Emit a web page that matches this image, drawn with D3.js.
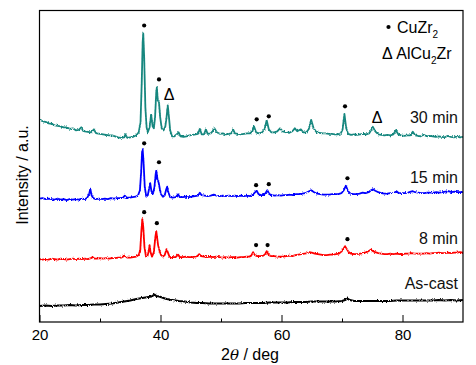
<!DOCTYPE html>
<html>
<head>
<meta charset="utf-8">
<script src="https://cdn.jsdelivr.net/npm/d3@7"></script>
<style>
  body { margin: 0; background: #fff; }
  svg { display: block; font-family: "Liberation Sans", Arial, sans-serif; }
</style>
</head>
<body>
<svg id="chart" width="476" height="365"></svg>
<script>
// XRD patterns, [2theta, intensity (a.u., stacked)]
const asCast = [[20,16],[21,16.5],[22,16],[23,16.5],[24,16.5],[25,17],[26,16.5],[27,17],[28,17],[29,17.5],[30,17.5],[31,18],[32,18.5],[33,19.5],[34,20.5],[35,21.5],[36,23],[37,24],[37.5,24.5],[38,25],[38.5,25.5],[39,27.5],[39.3,26],[39.8,25.5],[40.5,24],[41,23],[42,22],[43,21],[44,20.5],[45,19.5],[46,19],[47,19],[48,18.5],[49,18.5],[50,18.5],[51,18.5],[52,18.5],[53,18.5],[54,19],[55,19],[56,19],[57,19],[58,19.5],[59,19.5],[60,19.5],[61,19.5],[62,20],[63,20],[64,20],[65,20.5],[66,20.5],[67,20.5],[68,20.5],[69,20.5],[70,21],[70.5,22],[70.9,23.5],[71.3,22],[72,21],[73,21],[74,21],[75,21],[76,21],[77,21],[78,21],[79,21.5],[80,21.5],[81,21.5],[82,21.5],[83,21.5],[84,21.5],[85,21.5],[86,22],[87,21.5],[88,22],[89,21.5],[90,22]];

const min8 = [[20,63],[20.5,62.5],[21,63],[21.5,62.5],[22,63.5],[22.5,63],[23,62.5],[23.5,63.5],[24,63],[24.5,62.5],[25,63],[25.5,63.5],[26,63],[26.5,63.5],[27,63],[27.5,63.5],[28,63],[28.5,64],[28.8,65],[29.1,63.5],[29.5,63.5],[30,64],[30.5,63.5],[31,64],[31.5,63.5],[32,64],[32.5,64],[33,64.5],[33.5,64.5],[34.1,66.5],[34.5,64.5],[35,64.5],[35.5,65],[36,65.5],[36.4,67],[36.65,72],[36.85,92],[37,103],[37.15,95],[37.35,75],[37.6,65.5],[37.85,66],[38.05,71],[38.2,77],[38.35,70],[38.6,65.5],[38.9,70],[39.15,85],[39.3,91],[39.45,84],[39.6,77],[39.85,71],[40.1,67],[40.4,65.5],[40.7,67],[40.9,71],[41,73],[41.2,70],[41.45,66],[41.7,64.5],[42.1,65],[42.5,65],[42.9,67.5],[43.2,65],[43.7,65],[44.2,65.5],[44.7,65],[45.2,65],[45.7,65.5],[46.1,66],[46.4,68],[46.7,66],[47.2,65.5],[47.7,65],[48.2,65.5],[48.7,65],[49.2,65.5],[49.7,65],[50.2,64.5],[50.7,65],[51.2,64.5],[51.7,65],[52.2,65],[52.7,64.5],[53.2,65],[53.7,65],[54.2,65.5],[54.7,65.5],[55,66.5],[55.3,70],[55.6,67],[56,66],[56.5,66],[57,66.5],[57.3,68],[57.55,71],[57.9,67],[58.3,66],[58.8,66],[59.3,65.5],[59.8,65.5],[60.3,65.5],[60.8,66],[61.3,66.5],[61.8,66],[62.3,67],[62.8,67.5],[63.3,68],[63.8,68.5],[64.3,69],[64.6,70],[65,69.5],[65.5,68.5],[66,68],[66.5,67.5],[67,67],[67.5,67],[68,67.5],[68.5,67.5],[69,68],[69.5,68.5],[69.9,70.5],[70.2,73],[70.5,76],[70.8,73],[71.1,70],[71.5,68.5],[72,68],[72.5,68],[73,68.5],[73.5,69],[74,70],[74.4,71],[74.75,72.5],[75.1,71],[75.5,70],[76,69],[76.5,68.5],[77,68],[77.5,68],[78,68.5],[78.5,68],[79,68.5],[79.5,68],[80,68],[80.5,68.5],[81,68.5],[81.5,69],[82,68.5],[82.5,68.5],[83,68.5],[83.5,68.5],[84,69],[84.5,68.5],[85,69],[85.5,69],[86,69.5],[86.5,69],[87,69],[87.5,69.5],[88,69],[88.5,69.5],[89,69.5],[89.5,70],[90,69.5]];

const min15 = [[20,123.5],[20.5,124],[21,123],[21.5,123.5],[22,123],[22.5,122.5],[23,123.5],[23.5,122.5],[24,123],[24.5,122],[25,123],[25.5,122.5],[26,123],[26.5,122.5],[27,123.5],[27.5,123],[27.9,124.5],[28.2,128],[28.4,133.5],[28.6,127],[28.9,124],[29.3,123],[29.8,123.5],[30.3,123],[30.8,123.5],[31.3,123],[31.8,124],[32.3,123.5],[32.8,124],[33.3,124],[33.8,124.5],[34.1,126.5],[34.4,124.5],[34.9,124.5],[35.4,125],[35.9,125.5],[36.3,127],[36.6,132],[36.8,150],[36.95,170],[37.05,173],[37.2,160],[37.4,135],[37.65,125.5],[37.9,127],[38.1,133],[38.3,139],[38.5,131],[38.75,128.5],[39,135],[39.2,148],[39.3,151.5],[39.5,143],[39.7,139.5],[39.9,133],[40.1,128],[40.4,125.5],[40.7,127],[40.95,133],[41.1,135.5],[41.3,130],[41.6,125],[42,124.5],[42.5,125],[42.9,128],[43.2,125],[43.7,125],[44.2,125.5],[44.7,125],[45.2,125.5],[45.7,126],[46.2,126.5],[46.5,129.5],[46.8,127],[47.3,126.5],[47.8,126],[48.3,126.5],[48.8,127.5],[49.3,126.5],[49.8,126],[50.3,126.5],[50.8,126],[51.3,126.5],[51.8,126],[52.3,126.5],[52.8,126],[53.3,126.5],[53.8,126],[54.3,126.5],[54.8,126],[55.2,127],[55.5,129],[55.9,131.5],[56.2,128],[56.6,127],[57,127],[57.35,129],[57.65,132],[58,128],[58.4,127],[58.9,126.5],[59.4,127],[59.9,126.5],[60.4,127],[60.9,127],[61.4,127.5],[61.9,127],[62.4,128],[62.9,128],[63.4,128.5],[63.9,129],[64.4,130.5],[64.9,132],[65.4,130],[65.9,128.5],[66.4,128],[66.9,127.5],[67.4,127.5],[67.9,127.5],[68.4,128],[68.9,128],[69.4,128],[69.9,129],[70.3,132],[70.65,136.5],[71,131],[71.4,128.5],[71.9,128],[72.4,128],[72.9,128.5],[73.4,129.5],[73.9,129],[74.4,130],[74.8,132],[75.1,133],[75.5,131.5],[76,130],[76.5,129],[77,128.5],[77.5,128.5],[78,129],[78.5,129],[79,131],[79.4,129],[79.9,129],[80.4,129],[80.9,129.5],[81.4,130.5],[81.7,131],[82.1,130],[82.6,129.5],[83.1,129],[83.6,129],[84.1,129.5],[84.6,129.5],[85.1,129.5],[85.6,130],[86.1,129.5],[86.6,130],[87.1,130.5],[87.6,131],[88.1,130],[88.6,130.5],[89.1,130],[89.6,130],[90,130]];

const min30 = [[20,203],[20.5,201],[21,200.5],[21.5,199],[22,198.5],[22.5,197],[23,196.5],[23.5,196],[24,195],[24.5,195],[25,193.5],[25.5,194],[26,192],[26.5,192.5],[26.9,195],[27.2,191.5],[27.5,191],[28,190.5],[28.5,190],[29,193],[29.3,189.5],[29.5,189],[30,188.5],[30.5,188],[31,187.5],[31.5,187],[32,187],[32.5,186],[33,185],[33.5,184.5],[34,185],[34.2,188],[34.5,184.5],[35,185],[35.5,185.5],[36,187],[36.4,190],[36.7,200],[36.9,240],[37.05,280],[37.15,289],[37.3,265],[37.5,215],[37.7,195],[37.9,190],[38.2,195],[38.45,208],[38.7,196],[38.9,194],[39.1,205],[39.3,230],[39.4,235],[39.55,222],[39.75,220],[39.95,205],[40.2,194],[40.5,192],[40.8,196],[41,205],[41.2,217],[41.4,205],[41.6,192],[41.9,186],[42.3,186],[42.7,188],[43,190],[43.3,186],[43.8,185.5],[44.3,186],[44.8,187],[45.3,187.5],[45.8,188],[46.2,188.5],[46.5,193.5],[46.8,188],[47.2,188],[47.5,193],[47.8,188.5],[48.3,189],[48.6,191],[48.9,194],[49.3,190],[49.8,188.5],[50.3,189],[50.8,188],[51.3,188.5],[51.7,189],[52,193],[52.3,189],[52.8,188.5],[53.3,188],[53.8,188.5],[54.3,189],[54.8,189],[55.2,191],[55.45,196],[55.8,190],[56.3,189],[56.8,190],[57.2,193],[57.55,202],[57.9,193],[58.3,190],[58.8,190],[59.3,191],[59.75,194],[60.2,191],[60.8,190],[61.3,189.5],[61.8,191],[62.2,194],[62.6,191],[63.2,193],[63.6,190],[64.1,190],[64.5,193],[64.9,202.5],[65.3,194],[65.8,190],[66.3,189.5],[66.8,189],[67.3,189],[67.8,188.5],[68.3,188.5],[68.8,188],[69.3,188],[69.8,189],[70.1,193],[70.4,208.5],[70.7,194],[71,188.5],[71.5,187.5],[72,188],[72.5,187.5],[73,188],[73.5,188.5],[74,188],[74.5,189],[74.8,192],[75.1,195.5],[75.5,191],[76,188],[76.5,187.5],[77,187],[77.5,187.5],[78,187],[78.5,188],[78.9,192],[79.3,188],[79.8,187],[80.3,186.5],[80.8,187],[81.3,187],[81.7,190.5],[82.1,187],[82.6,186.5],[83,186],[83.5,187.5],[84,186],[84.5,186.5],[85,186],[85.5,185.5],[86,186],[86.5,185.5],[87,185],[87.5,186.5],[88,185.5],[88.5,185],[89,186],[89.5,185],[90,185.5]];

const seriesNames = ['As-cast', '8 min', '15 min', '30 min'];
const seriesData = [asCast, min8, min15, min30];

// phase markers [2theta, intensity level]
const cuZr2Marks = [
  [37.3, 297], [39.75, 243], [55.9, 203], [57.9, 206], [70.5, 216],
  [37.3, 179], [39.75, 160], [55.8, 137], [57.9, 138], [70.9, 144],
  [37.3, 110], [39.4, 99], [55.8, 77], [57.7, 77], [70.9, 83]
];
const alCu2ZrMarks = [[41.4, 228], [75.8, 205]];

const xTicks = [20, 40, 60, 80];
const xMinorTicks = [30, 50, 70];

const colors = ['#000000', '#ff0000', '#0000ff', '#17877f'];
const widths = [2.1, 1.8, 1.8, 1.8];

const w = 476, h = 365;
const m = { left: 39.5, right: 463, top: 10.5, bottom: 322 };

const svg = d3.select('#chart');

// rough-looking stroke (vertical jitter only), like raw detector noise
const defs = svg.append('defs');
const rough = defs.append('filter').attr('id', 'rough')
  .attr('x', '-2%').attr('y', '-10%').attr('width', '104%').attr('height', '120%');
rough.append('feTurbulence')
  .attr('type', 'fractalNoise')
  .attr('baseFrequency', '1.2 0.6')
  .attr('numOctaves', 1)
  .attr('seed', 3)
  .attr('result', 'noise');
rough.append('feColorMatrix')
  .attr('in', 'noise')
  .attr('type', 'matrix')
  .attr('values', '0 0 0 0 0.5  0 1 0 0 0  0 0 1 0 0  0 0 0 0 1')
  .attr('result', 'noiseY');
rough.append('feDisplacementMap')
  .attr('in', 'SourceGraphic')
  .attr('in2', 'noiseY')
  .attr('scale', 3.5)
  .attr('xChannelSelector', 'R')
  .attr('yChannelSelector', 'G');

const x = d3.scaleLinear().domain([20, 90]).range([m.left, m.right]);
const y = d3.scaleLinear().domain([0, 312]).range([m.bottom, m.top]);

const line = d3.line()
  .x(d => x(d[0]))
  .y(d => y(d[1]))
  .curve(d3.curveLinear);

// traces
svg.append('g')
  .attr('filter', 'url(#rough)')
  .selectAll('path')
  .data(seriesData)
  .enter()
  .append('path')
  .attr('d', line)
  .attr('fill', 'none')
  .attr('stroke', (d, i) => colors[i])
  .attr('stroke-width', (d, i) => widths[i])
  .attr('stroke-linejoin', 'round');

// frame
svg.append('rect')
  .attr('x', m.left).attr('y', m.top)
  .attr('width', m.right - m.left).attr('height', m.bottom - m.top)
  .attr('fill', 'none').attr('stroke', '#000').attr('stroke-width', 1.2);

// x axis
const xAxis = d3.axisBottom(x).tickValues(xTicks).tickSizeInner(-7).tickSizeOuter(0).tickPadding(7);
const gx = svg.append('g').attr('transform', 'translate(0,' + m.bottom + ')').call(xAxis);
gx.select('.domain').remove();
gx.selectAll('text').attr('font-size', 15).attr('fill', '#000').attr('font-family', '"Liberation Sans", Arial, sans-serif');
gx.selectAll('line').attr('stroke', '#000');

const xMinor = d3.axisBottom(x).tickValues(xMinorTicks).tickSizeInner(-3.5).tickSizeOuter(0).tickFormat('');
const gxm = svg.append('g').attr('transform', 'translate(0,' + m.bottom + ')').call(xMinor);
gxm.select('.domain').remove();
gxm.selectAll('line').attr('stroke', '#000');

// axis titles
const xt = svg.append('text')
  .attr('x', 250).attr('y', 360)
  .attr('text-anchor', 'middle')
  .attr('font-size', 16);
xt.append('tspan').text('2');
xt.append('tspan').attr('font-style', 'italic').attr('font-family', '"DejaVu Serif", serif').attr('font-size', 15).text('θ');
xt.append('tspan').text(' / deg');

svg.append('text')
  .attr('transform', 'translate(28,175) rotate(-90)')
  .attr('text-anchor', 'middle')
  .attr('font-size', 16)
  .text('Intensity / a.u.');

// series labels
const labelLevels = [39, 84, 145, 205];
svg.append('g')
  .selectAll('text')
  .data(seriesNames)
  .enter()
  .append('text')
  .attr('x', 458)
  .attr('y', (d, i) => y(labelLevels[i]))
  .attr('dy', '0.36em')
  .attr('text-anchor', 'end')
  .attr('font-size', 16)
  .attr('fill', '#111')
  .text(d => d);

// phase markers
svg.append('g')
  .selectAll('circle')
  .data(cuZr2Marks)
  .enter()
  .append('circle')
  .attr('cx', d => x(d[0]))
  .attr('cy', d => y(d[1]))
  .attr('r', 2.1)
  .attr('fill', '#000');

svg.append('g')
  .selectAll('text')
  .data(alCu2ZrMarks)
  .enter()
  .append('text')
  .attr('x', d => x(d[0]))
  .attr('y', d => y(d[1]))
  .attr('dy', '0.36em')
  .attr('text-anchor', 'middle')
  .attr('font-size', 16)
  .text('Δ');

// legend
const lg = svg.append('g');
lg.append('circle').attr('cx', 388.5).attr('cy', 27).attr('r', 2.1).attr('fill', '#000');
const l1 = lg.append('text').attr('x', 397).attr('y', 33).attr('font-size', 16);
l1.append('tspan').text('CuZr');
l1.append('tspan').attr('font-size', 10).attr('dy', 5).text('2');
const l2 = lg.append('text').attr('x', 382).attr('y', 59).attr('font-size', 16);
l2.append('tspan').text('Δ AlCu');
l2.append('tspan').attr('font-size', 10).attr('dy', 5).text('2');
l2.append('tspan').attr('dy', -5).text('Zr');
</script>
</body>
</html>
